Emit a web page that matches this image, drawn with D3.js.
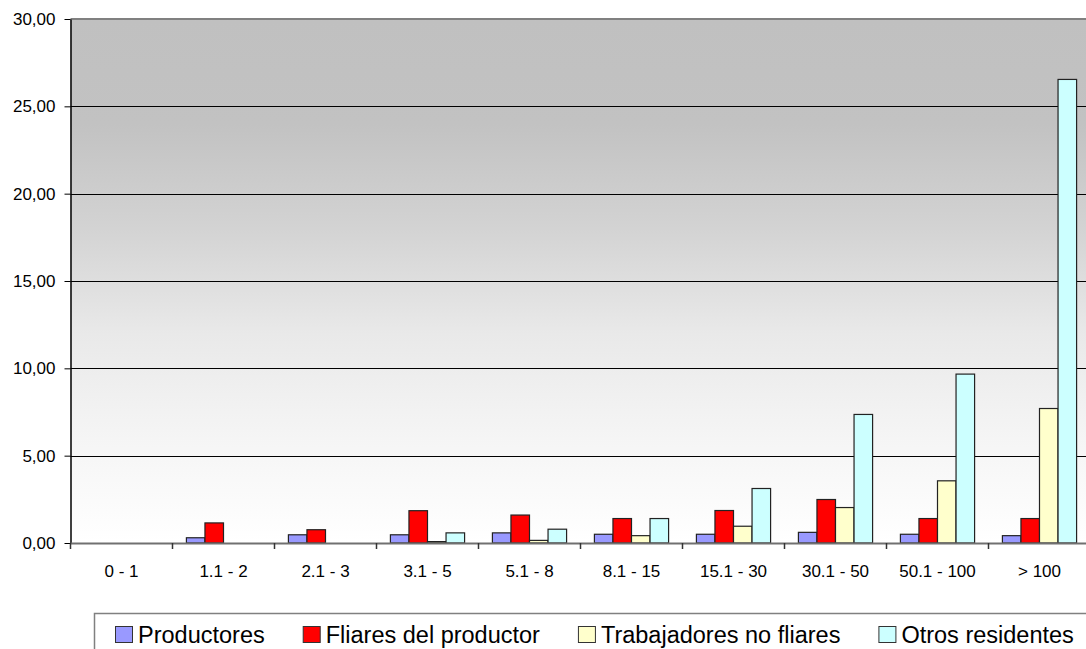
<!DOCTYPE html>
<html>
<head>
<meta charset="utf-8">
<script src="https://cdn.jsdelivr.net/npm/d3@7/dist/d3.min.js"></script>
<style>
  html, body { margin: 0; padding: 0; background: #fff; }
  svg { display: block; font-family: "Liberation Sans", Arial, sans-serif; }
  svg text { font-family: "Liberation Sans", Arial, sans-serif; }
</style>
</head>
<body>
<div id="chart"></div>
<script>
// Chart data
const categories = ["0 - 1", "1.1 - 2", "2.1 - 3", "3.1 - 5", "5.1 - 8", "8.1 - 15", "15.1 - 30", "30.1 - 50", "50.1 - 100", "> 100"];
const seriesNames = ["Productores", "Fliares del productor", "Trabajadores no fliares", "Otros residentes"];
const productores = [0, 0.30, 0.47, 0.47, 0.58, 0.50, 0.50, 0.61, 0.50, 0.42];
const fliares = [0, 1.15, 0.76, 1.85, 1.60, 1.40, 1.86, 2.49, 1.40, 1.40];
const trabajadores = [0, 0, 0, 0.08, 0.15, 0.42, 0.96, 2.03, 3.56, 7.70];
const otros = [0, 0, 0, 0.58, 0.79, 1.40, 3.12, 7.36, 9.67, 26.54];
const yTicks = [0, 5, 10, 15, 20, 25, 30];
const colors = ["#9999FF", "#FF0000", "#FFFFCC", "#CCFFFF"];

const seriesValues = [productores, fliares, trabajadores, otros];

const W = 1086, H = 649;
const margin = {top: 19, left: 70.5, bottom: 543};
const plotRight = 1090.5;

const svg = d3.select("#chart").append("svg")
    .attr("width", W)
    .attr("height", H);

const x = d3.scaleBand()
    .domain(categories)
    .range([margin.left, plotRight])
    .padding(0);

const xInner = d3.scaleBand()
    .domain(d3.range(seriesNames.length))
    .range([0, x.bandwidth()])
    .paddingInner(0)
    .paddingOuter(0.75);

const y = d3.scaleLinear()
    .domain([0, 30])
    .range([margin.bottom, margin.top]);

// background gradient
const defs = svg.append("defs");
const grad = defs.append("linearGradient")
    .attr("id", "bg")
    .attr("x1", 0).attr("y1", 0).attr("x2", 0).attr("y2", 1);
[[0, "#c0c0c0"], [0.2, "#c2c2c2"], [0.4, "#d3d3d3"], [0.6, "#e9e9e9"], [0.8, "#f5f5f5"], [1, "#ffffff"]]
    .forEach(s => grad.append("stop").attr("offset", s[0]).attr("stop-color", s[1]));

svg.append("rect")
    .attr("x", margin.left)
    .attr("y", y(30))
    .attr("width", plotRight - margin.left)
    .attr("height", y(0) - y(30))
    .attr("fill", "url(#bg)");

// gridlines
svg.append("g")
    .selectAll("line")
    .data(yTicks.filter(d => d > 0 && d < 30))
    .enter()
    .append("line")
    .attr("x1", margin.left)
    .attr("x2", plotRight)
    .attr("y1", d => Math.round(y(d)) + 0.5)
    .attr("y2", d => Math.round(y(d)) + 0.5)
    .attr("stroke", "#000")
    .attr("stroke-width", 1);

// top border
svg.append("line")
    .attr("x1", margin.left)
    .attr("x2", plotRight)
    .attr("y1", y(30))
    .attr("y2", y(30))
    .attr("stroke", "#808080")
    .attr("stroke-width", 2);

// bars
const groups = svg.append("g")
    .selectAll("g")
    .data(categories)
    .enter()
    .append("g")
    .attr("transform", d => `translate(${x(d)},0)`);

groups.selectAll("rect")
    .data((d, i) => seriesValues.map((vals, s) => ({s: s, v: vals[i]})).filter(e => e.v > 0))
    .enter()
    .append("rect")
    .attr("x", d => xInner(d.s))
    .attr("y", d => y(d.v))
    .attr("width", xInner.bandwidth())
    .attr("height", d => y(0) - y(d.v))
    .attr("fill", d => colors[d.s])
    .attr("stroke", "#222")
    .attr("stroke-width", 1.2);

// axes
const locale = d3.formatLocale({decimal: ",", thousands: ".", grouping: [3], currency: ["", ""]});
const fmt = locale.format(".2f");

const yAxis = svg.append("g")
    .attr("transform", `translate(${margin.left},0)`)
    .call(d3.axisLeft(y).tickValues(yTicks).tickFormat(fmt).tickSize(6).tickPadding(9).tickSizeOuter(0));
yAxis.attr("font-family", null);
yAxis.select(".domain").attr("stroke", "#000").attr("stroke-width", 1.5);
yAxis.selectAll(".tick line").attr("stroke", "#000");
yAxis.selectAll("text").style("font-size", "17px").attr("fill", "#000");

const xAxis = svg.append("g")
    .attr("transform", `translate(0,${margin.bottom})`)
    .call(d3.axisBottom(x).tickSize(0).tickPadding(22).tickSizeOuter(0));
xAxis.attr("font-family", null);
xAxis.select(".domain").attr("stroke", "#707070").attr("stroke-width", 2);
xAxis.selectAll("text").style("font-size", "17px").attr("fill", "#000");

// category boundary ticks
svg.append("g")
    .selectAll("line")
    .data(categories)
    .enter()
    .append("line")
    .attr("x1", d => x(d))
    .attr("x2", d => x(d))
    .attr("y1", margin.bottom)
    .attr("y2", margin.bottom + 6)
    .attr("stroke", "#333")
    .attr("stroke-width", 1.5);

// legend
const legend = svg.append("g");
legend.append("rect")
    .attr("x", 94.5)
    .attr("y", 613.5)
    .attr("width", 1100)
    .attr("height", 60)
    .attr("fill", "#fff")
    .attr("stroke", "#808080")
    .attr("stroke-width", 1.5);

let lx = 115;
seriesNames.forEach((name, i) => {
    legend.append("rect")
        .attr("x", lx + 0.5)
        .attr("y", 626.5)
        .attr("width", 17)
        .attr("height", 16)
        .attr("fill", colors[i])
        .attr("stroke", "#333")
        .attr("stroke-width", 1);
    const t = legend.append("text")
        .attr("x", lx + 23)
        .attr("y", 643)
        .style("font-size", "23.5px")
        .attr("fill", "#000")
        .text(name);
    lx = lx + 23 + t.node().getComputedTextLength() + 38;
});
</script>
</body>
</html>
